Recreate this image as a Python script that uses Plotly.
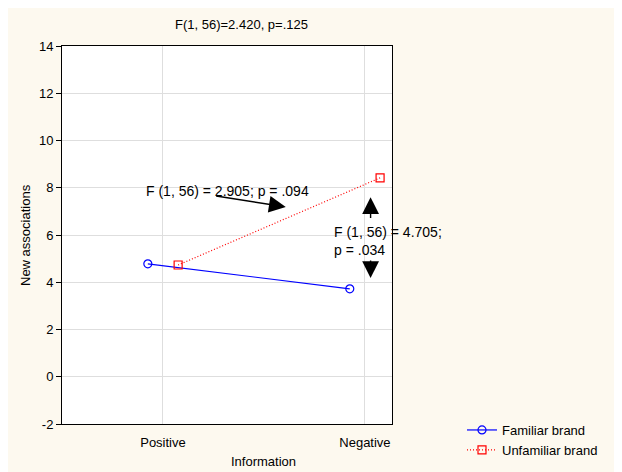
import plotly.graph_objects as go

# ---- data ----
categories = ["Positive", "Negative"]
familiar = [4.78, 3.72]
unfamiliar = [4.73, 8.42]
series_names = ["Familiar brand", "Unfamiliar brand"]
y_ticks = [-2, 0, 2, 4, 6, 8, 10, 12, 14]
y_tick_labels = ["-2", "0", "2", "4", "6", "8", "10", "12", "14"]
title_text = "F(1, 56)=2.420, p=.125"
note1 = "F (1, 56) = 2.905; p = .094"
note2 = "F (1, 56) = 4.705;<br>p = .034"

FONT = "Liberation Sans, Arial, sans-serif"
OFF = 8  # page body margin
W, H = 622, 472
ML, MR, MT, MB = 54, 238, 38, 56
PW, PH = W - ML - MR, H - MT - MB

def px2x(p):
    # page pixel -> paper x
    return (p - OFF - ML) / PW

def px2y(p):
    # page pixel -> paper y
    return (H - MB - (p - OFF)) / PH

cat_pos = list(range(len(categories)))
off = 0.075

fig = go.Figure()
fig.add_trace(go.Scatter(
    x=[c - off for c in cat_pos], y=familiar, name=series_names[0],
    mode="lines+markers",
    line=dict(color="#0000ff", width=1.2),
    marker=dict(symbol="circle-open", size=8, color="#0000ff", line=dict(width=1.2)),
))
fig.add_trace(go.Scatter(
    x=[c + off for c in cat_pos], y=unfamiliar, name=series_names[1],
    mode="lines+markers",
    line=dict(color="#ff0000", width=1.2, dash="1px,2px"),
    marker=dict(symbol="square-open", size=8, color="#ff0000", line=dict(width=1.2)),
))

cream = "#fdf9ef"

arrow_style = dict(showarrow=True, arrowhead=2, arrowsize=2.4, arrowwidth=1.4,
                   arrowcolor="black", text="", axref="x", ayref="y", xref="x", yref="y",
                   standoff=0, startstandoff=0)

txt = dict(size=13, family=FONT, color="black")
annotations = [
    dict(text=title_text, xref="paper", yref="paper", x=px2x(241), y=px2y(25),
         xanchor="center", yanchor="middle", showarrow=False, font=txt),
    dict(text="Information", xref="paper", yref="paper", x=px2x(264), y=px2y(461),
         xanchor="center", yanchor="middle", showarrow=False, font=txt),
    dict(text="New associations", xref="paper", yref="paper", x=px2x(25), y=0.5,
         xanchor="center", yanchor="middle",
         textangle=-90, showarrow=False, font=txt),
    dict(text=note1, xref="x", yref="y", x=-0.092, y=7.87, xanchor="left", yanchor="middle",
         showarrow=False, font=dict(size=14, family=FONT, color="black")),
    dict(text=note2, xref="x", yref="y", x=0.838, y=5.76, xanchor="left", yanchor="middle",
         align="left", showarrow=False, font=dict(size=14, family=FONT, color="black")),
    dict(x=0.608, y=7.19, ax=0.256, ay=7.66, **arrow_style),
    dict(x=1.028, y=7.6, ax=1.028, ay=6.66, **arrow_style),
    dict(x=1.028, y=4.18, ax=1.028, ay=4.98, **arrow_style),
]

fig.update_layout(
    width=W, height=H,
    margin=dict(l=ML, r=MR, t=MT, b=MB, pad=0, autoexpand=False),
    paper_bgcolor=cream, plot_bgcolor="white",
    font=dict(family=FONT, size=13, color="black"),
    showlegend=True,
    legend=dict(x=px2x(462), y=px2y(415), xanchor="left", yanchor="top",
                bgcolor="rgba(0,0,0,0)", font=dict(size=13, family=FONT),
                itemwidth=30, tracegroupgap=0),
    annotations=annotations,
)
fig.update_xaxes(
    range=[-0.5, 1.134], tickvals=cat_pos, ticktext=categories,
    showgrid=True, gridcolor="#dedede", gridwidth=1,
    showline=True, linecolor="black", linewidth=1, mirror=True,
    ticks="", zeroline=False, tickfont=dict(size=13), ticklabelstandoff=6,
    automargin=False,
)
fig.update_yaxes(
    range=[-2, 14], tickvals=y_ticks, ticktext=y_tick_labels,
    showgrid=True, gridcolor="#dedede", gridwidth=1,
    showline=True, linecolor="black", linewidth=1, mirror=True,
    ticks="outside", ticklen=5, tickcolor="black", zeroline=False,
    tickfont=dict(size=13), automargin=False,
)

fig.write_html(
    "out.html",
    post_script="document.documentElement.style.overflow='hidden';"
                "document.body.style.overflow='hidden';",
)
